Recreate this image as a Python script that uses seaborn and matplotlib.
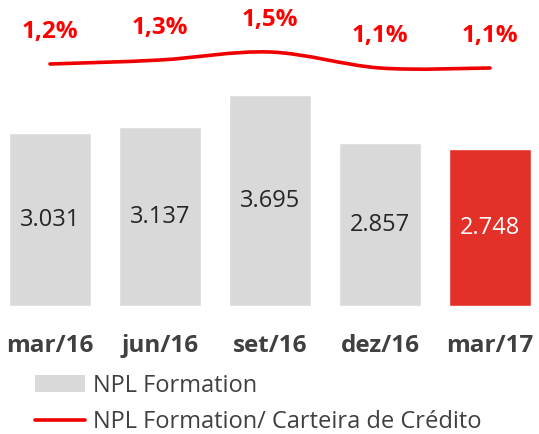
import numpy as np
import pandas as pd
import seaborn as sns
import matplotlib
matplotlib.use("Agg")
import matplotlib.pyplot as plt
from matplotlib.path import Path
from matplotlib.patches import PathPatch, Patch
from matplotlib.lines import Line2D

# ---- data ----
categories = ["mar/16", "jun/16", "set/16", "dez/16", "mar/17"]
npl_values = [3031, 3137, 3695, 2857, 2748]
npl_labels = ["3.031", "3.137", "3.695", "2.857", "2.748"]
ratio_values = [1.2, 1.3, 1.5, 1.1, 1.1]
ratio_labels = ["1,2%", "1,3%", "1,5%", "1,1%", "1,1%"]
legend_labels = ["NPL Formation", "NPL Formation/ Carteira de Crédito"]

GRAY = "#d9d9d9"
BAR_RED = "#e3312a"
LINE_RED = "#ee0000"
TEXT = "#404040"
bar_colors = [GRAY, GRAY, GRAY, GRAY, BAR_RED]

sns.set_theme(style="white")
plt.rcParams['font.family'] = ['Open Sans', 'DejaVu Sans']

W, H = 539, 434
fig = plt.figure(figsize=(W / 100, H / 100), dpi=100)
ax = fig.add_axes([0, 128 / H, 1, 306 / H])

df = pd.DataFrame({"cat": categories, "val": npl_values})
sns.barplot(data=df, x="cat", y="val", hue="cat", palette=bar_colors,
            legend=False, width=0.745, saturation=1, ax=ax)

ax.set_xlim(-50 / 110, 489 / 110)
ax.set_ylim(0, 306 / 0.057)
for s in ax.spines.values():
    s.set_visible(False)
ax.set_yticks([])
ax.set_xlabel("")
ax.set_ylabel("")
ax.set_xticks(range(len(categories)))
ax.set_xticklabels(categories, fontsize=17.5, fontweight="bold", color=TEXT)
ax.tick_params(axis="x", length=0, pad=29)
for t in ax.get_xticklabels():
    t.set_va("center")

for i, (v, lab) in enumerate(zip(npl_values, npl_labels)):
    ax.text(i, v / 2, lab, ha="center", va="center", fontsize=17,
            color="white" if i == len(npl_values) - 1 else "#262626")

# ---- smoothed ratio line on secondary axis ----
ax2 = ax.twinx()
ax2.set_ylim(-4.85, 2.8)
ax2.set_xlim(ax.get_xlim())
ax2.axis("off")

xs = np.arange(len(ratio_values), dtype=float)
ys = np.array(ratio_values, dtype=float)
pts = np.column_stack([xs, ys])
verts = [tuple(pts[0])]
codes = [Path.MOVETO]
n = len(pts)
for k in range(n - 1):
    p0 = pts[max(k - 1, 0)]
    p1 = pts[k]
    p2 = pts[k + 1]
    p3 = pts[min(k + 2, n - 1)]
    c1 = p1 + (p2 - p0) / 6
    c2 = p2 - (p3 - p1) / 6
    verts += [tuple(c1), tuple(c2), tuple(p2)]
    codes += [Path.CURVE4] * 3
ax2.add_patch(PathPatch(Path(verts, codes), fill=False, edgecolor=LINE_RED,
                        lw=2.6, capstyle="round"))

for i, (v, lab) in enumerate(zip(ratio_values, ratio_labels)):
    ax2.annotate(lab, (i, v), xytext=(0, 23), textcoords="offset points",
                 ha="center", va="center", fontsize=17.5, fontweight="bold",
                 color="#ff0000")

# ---- legend ----
handles = [Patch(facecolor=GRAY, edgecolor="none"),
           Line2D([], [], color=LINE_RED, lw=2.6)]
fig.legend(handles, legend_labels, loc="upper left",
           bbox_to_anchor=(35 / W, (H - 374) / H), frameon=False,
           fontsize=17, handlelength=2.1, handletextpad=0.35,
           labelspacing=0.5, borderpad=0, borderaxespad=0,
           labelcolor=TEXT)

fig.savefig("out.png", dpi=100)
